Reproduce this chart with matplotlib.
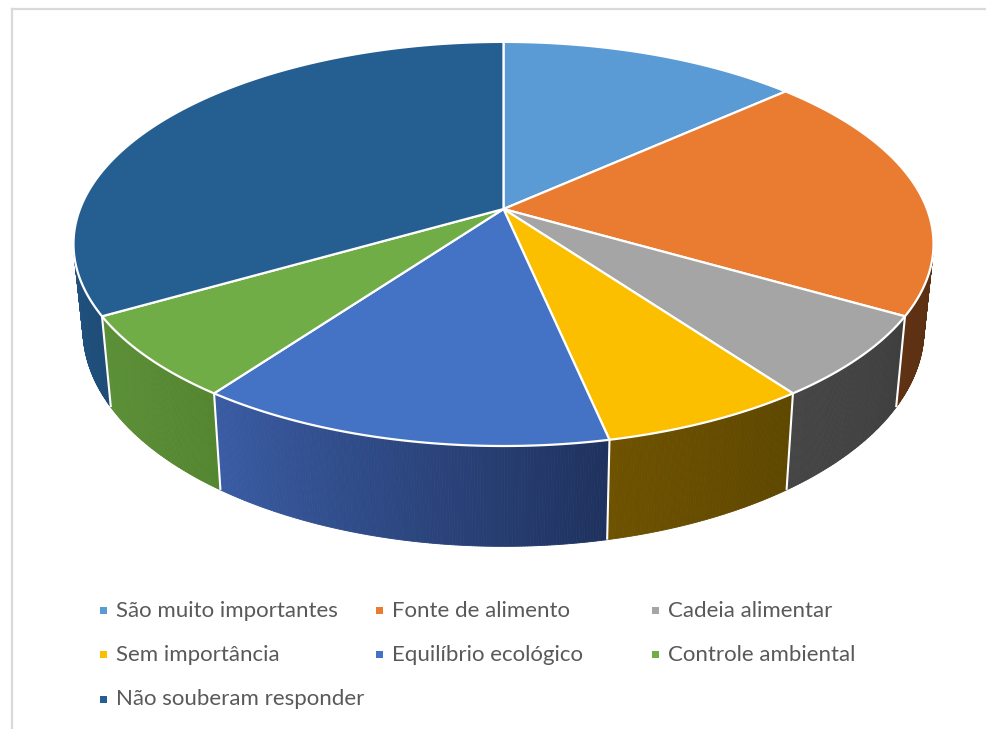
import numpy as np
import matplotlib
matplotlib.use("Agg")
import matplotlib.pyplot as plt
from matplotlib.patches import Polygon, Rectangle
from matplotlib.collections import PolyCollection
from matplotlib.colors import to_rgb

# ---------------- data ----------------
categories = ["São muito importantes", "Fonte de alimento", "Cadeia alimentar",
              "Sem importância", "Equilíbrio ecológico", "Controle ambiental",
              "Não souberam responder"]
values = [4, 6, 2, 2, 4, 2, 10]

top_colors = ["#5B9BD5", "#EA7C31", "#A5A5A5", "#FBBF00", "#4472C4", "#70AD47", "#255E91"]
# side colours: (right end, left end) for the gradient on the wall
side_colors = [("#2d4f70", "#2d4f70"), ("#5a2f12", "#603214"), ("#3f3f3f", "#454545"),
               ("#5e4700", "#6e5200"), ("#1f325e", "#3a5ca4"), ("#548530", "#5c9037"),
               ("#1f4d78", "#21517e")]

# ---------------- projection (pixel space) ----------------
CX, CY = 503.5, 209.0
RX, RY, B = 423.5, 196.0, 0.173
H, S = 83.0, 0.978


def top_pt(th):
    t = np.radians(th)
    z = np.cos(t)
    d = 1 + B * z
    return CX + RX * np.sin(t) / d, CY - RY * z / d


def bot_pt(th):
    x, y = top_pt(th)
    d = 1 + B * np.cos(np.radians(th))
    return CX + S * (x - CX), y + H / d


VIS0 = np.degrees(np.arccos(-B))
VIS1 = 360 - VIS0

fig = plt.figure(figsize=(9.86, 7.29), dpi=100)
ax = fig.add_axes([0, 0, 1, 1])
ax.set_xlim(0, 986)
ax.set_ylim(729, 0)
ax.axis("off")

vals = np.array(values, dtype=float)
ends = np.cumsum(vals) / vals.sum() * 360
starts = np.concatenate([[0], ends[:-1]])

# side walls
for i in range(len(vals)):
    a0, a1 = starts[i], ends[i]
    lo, hi = max(a0, VIS0), min(a1, VIS1)
    if hi <= lo:
        continue
    ths = np.linspace(lo, hi, int((hi - lo) * 3) + 2)
    cR = np.array(to_rgb(side_colors[i][0]))
    cL = np.array(to_rgb(side_colors[i][1]))
    polys, cols = [], []
    for k in range(len(ths) - 1):
        t0, t1 = ths[k], ths[k + 1]
        xt0, yt0 = top_pt(t0)
        xt1, yt1 = top_pt(t1)
        xb0, yb0 = bot_pt(t0)
        xb1, yb1 = bot_pt(t1)
        polys.append([(xt0, yt0), (xt1, yt1), (xb1, yb1), (xb0, yb0)])
        f = ((t0 + t1) / 2 - lo) / (hi - lo)
        cols.append(tuple(cR * (1 - f) + cL * f))
    ax.add_collection(PolyCollection(polys, facecolors=cols, edgecolors=cols,
                                     linewidths=0.6, zorder=1))

# divider lines on the walls
for a in starts[1:]:
    if VIS0 < a < VIS1:
        xt, yt = top_pt(a)
        xb, yb = bot_pt(a)
        ax.plot([xt, xb], [yt, yb], color="white", lw=1.5, zorder=2,
                solid_capstyle="butt")

# top face
for i in range(len(vals)):
    a0, a1 = starts[i], ends[i]
    ths = np.linspace(a0, a1, max(int((a1 - a0) * 2), 2))
    xs, ys = top_pt(ths)
    pts = [(CX, CY)] + list(zip(xs, ys))
    ax.add_patch(Polygon(pts, closed=True, facecolor=top_colors[i],
                         edgecolor="white", lw=1.6, joinstyle="round", zorder=3))

# chart frame (partially visible)
ax.plot([11.5, 11.5], [8.5, 729], color="#d9d9d9", lw=1.6, zorder=0)
ax.plot([11.5, 986], [8.5, 8.5], color="#d9d9d9", lw=1.6, zorder=0)

# legend (row-major, 3 columns)
for i, lab in enumerate(categories):
    r, c = divmod(i, 3)
    mx = 100 + c * 276
    my = 610 + r * 44.5
    ax.add_patch(Rectangle((mx, my - 3.5), 7, 7, facecolor=top_colors[i],
                           edgecolor="none", zorder=4))
    ax.text(mx + 16, 616.7 + r * 44.3, lab, fontsize=16.0, color="#595959",
            family=["Lato", "DejaVu Sans"], va="baseline", ha="left", zorder=4)

fig.savefig("out.png", dpi=100)
